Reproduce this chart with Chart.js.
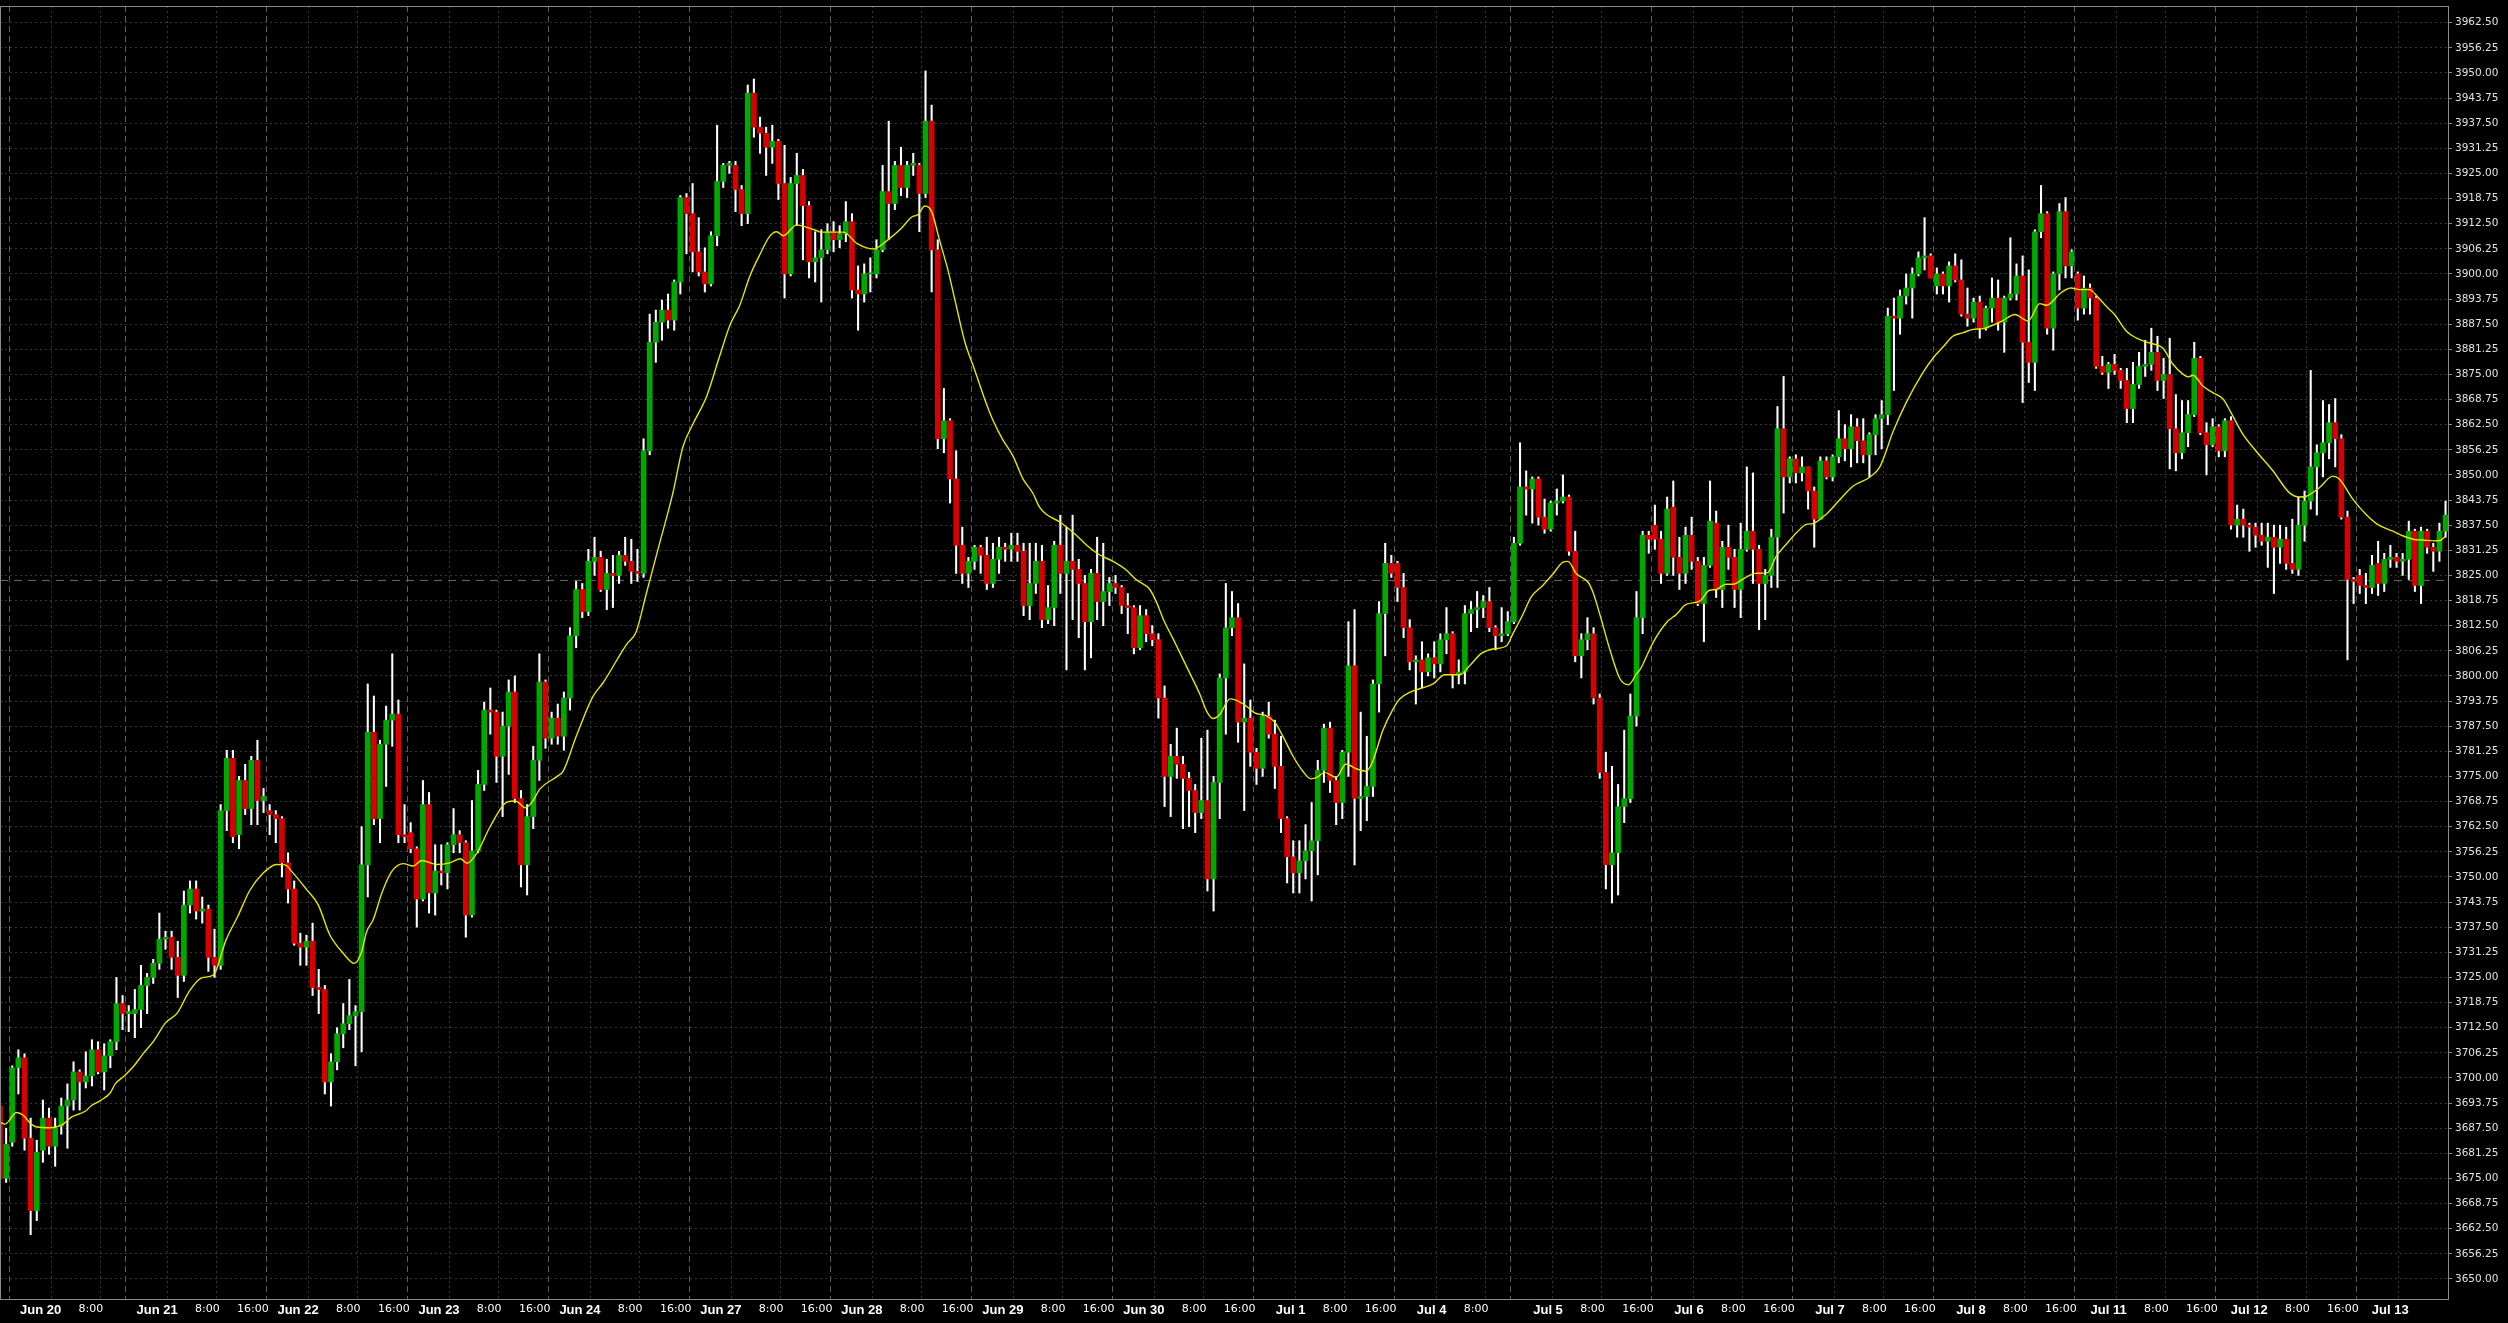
<!DOCTYPE html>
<html>
<head>
<meta charset="utf-8">
<title>ES hourly candles</title>
<script src="https://cdn.jsdelivr.net/npm/chart.js@4.4.0/dist/chart.umd.min.js"></script>
<style>
  html, body { margin: 0; padding: 0; background: #000; }
  #wrap { width: 2508px; height: 1323px; }
</style>
</head>
<body>
<div id="wrap"><canvas id="chart" width="2508" height="1323"></canvas></div>
<script>
// hourly bars, Jun 20 -> Jul 13 (index = bar number)
const openP = [
  3693, 3675, 3684, 3702.5, 3705, 3685, 3667, 3682, 3690, 3683,
  3688, 3693, 3694.5, 3701.5, 3699, 3700.5, 3707, 3701.5, 3705.5, 3709,
  3718.5, 3716, 3716, 3717, 3723, 3725, 3728.5, 3734.5, 3735, 3730,
  3725.5, 3743, 3747, 3741.5, 3742, 3730, 3728, 3766.5, 3779.5, 3760.5,
  3774, 3767, 3779, 3769, 3766.5, 3765.5, 3764.5, 3753.5, 3747, 3733.5,
  3732.5, 3734, 3722.5, 3722, 3699, 3704, 3711, 3713.5, 3715.5, 3716.5,
  3753, 3786, 3764.5, 3783, 3789, 3790.5, 3760.5, 3761, 3757, 3744.5,
  3768, 3746, 3751.5, 3751, 3758, 3760.5, 3758.5, 3740.5, 3756.5, 3773,
  3791.5, 3791, 3780, 3787.5, 3796, 3769.5, 3753, 3765, 3779, 3798.5,
  3784.5, 3789.5, 3785, 3794.5, 3810, 3821.5, 3816, 3828.5, 3829.5, 3821.5,
  3825.5, 3825, 3830, 3828.5, 3826, 3825.5, 3856, 3883, 3888, 3891,
  3888.5, 3898, 3919, 3915, 3905.5, 3900.5, 3897.5, 3909.5, 3923, 3927,
  3927, 3921, 3915, 3945, 3936.5, 3935, 3931.5, 3933, 3922.5, 3900,
  3922.5, 3924.5, 3917, 3903, 3904, 3906, 3910.5, 3908.5, 3910, 3913,
  3896, 3895, 3900, 3900, 3906, 3920.5, 3917.5, 3927, 3921.5, 3927,
  3927, 3920, 3938, 3906, 3859, 3863.5, 3849, 3832.5, 3825.5, 3828.5,
  3832, 3830, 3823, 3829, 3832, 3831.5, 3832.5, 3831, 3817.5, 3823,
  3828.5, 3814, 3817, 3832.5, 3825.5, 3828.5, 3826.5, 3823, 3813.5, 3825.5,
  3818.5, 3821, 3823, 3822, 3817.5, 3817, 3807, 3815, 3810.5, 3809,
  3794.5, 3775, 3780, 3778, 3774.5, 3771.5, 3766, 3769, 3749.5, 3773.5,
  3799.5, 3812, 3814.5, 3788.5, 3789.5, 3781, 3777, 3790, 3785.5, 3777.5,
  3764.5, 3755, 3751, 3754, 3756.5, 3759, 3776.5, 3787, 3774, 3768.5,
  3781, 3802.5, 3769.5, 3770, 3772.5, 3798, 3815.5, 3828, 3828, 3822,
  3812, 3803.5, 3804, 3801, 3804.5, 3803, 3809, 3810.5, 3800.5, 3801,
  3815.5, 3816.5, 3817, 3818.5, 3812, 3810, 3810.5, 3813.5, 3833, 3847,
  3846.5, 3849, 3839.5, 3836.5, 3843, 3843.5, 3844.5, 3831, 3805, 3809,
  3810.5, 3794.5, 3776, 3753, 3756, 3767.5, 3769.5, 3790, 3814.5, 3835,
  3837.5, 3834, 3825.5, 3842, 3829.5, 3825.5, 3835, 3828.5, 3818, 3827.5,
  3838, 3821.5, 3832, 3829.5, 3821.5, 3831.5, 3836, 3831.5, 3823, 3825,
  3834.5, 3861.5, 3849.5, 3854, 3850.5, 3852, 3846, 3839, 3853.5, 3849.5,
  3854.5, 3859, 3856.5, 3862, 3858.5, 3855, 3860, 3864, 3865, 3889.5,
  3889, 3894.5, 3896.5, 3900, 3904, 3904.5, 3897, 3900, 3897, 3902,
  3898.5, 3890, 3889, 3893, 3886.5, 3891.5, 3894, 3888, 3894, 3895,
  3899.5, 3883, 3878, 3910.5, 3915, 3886.5, 3900, 3915.5, 3902, 3900,
  3891.5, 3896.5, 3894, 3877, 3875.5, 3877.5, 3876, 3873.5, 3866.5, 3872.5,
  3877, 3877.5, 3880.5, 3873.5, 3875, 3861.5, 3855.5, 3860.5, 3865, 3879,
  3860.5, 3857.5, 3862, 3856, 3863.5, 3837.5, 3839, 3837.5, 3837, 3835,
  3833.5, 3834.5, 3832, 3834, 3828, 3826.5, 3837.5, 3843.5, 3852, 3855.5,
  3858, 3863, 3859, 3839.5, 3824, 3825, 3822.5, 3822, 3828, 3823,
  3829, 3829.5, 3828.5, 3829, 3836, 3822.5, 3836, 3832, 3831, 3836
];
const highP = [
  3696, 3687.5, 3703, 3707, 3706, 3690, 3684.5, 3694.5, 3692.5, 3690,
  3695, 3698.5, 3704, 3702, 3706.5, 3709.5, 3709, 3708.5, 3709.5, 3725,
  3720.5, 3718, 3722, 3728, 3726, 3729.5, 3741, 3736.5, 3736.5, 3734,
  3746.5, 3749, 3749, 3745, 3743, 3737, 3768, 3781.5, 3781.5, 3775,
  3778, 3780, 3784, 3772, 3768, 3766.5, 3765, 3756, 3749, 3736,
  3735.5, 3738.5, 3727, 3723, 3706, 3712.5, 3718.5, 3724.5, 3718, 3762.5,
  3798, 3795, 3784, 3792.5, 3805.5, 3794, 3768, 3763.5, 3757.5, 3774,
  3771, 3758, 3758, 3758.5, 3767, 3761.5, 3759, 3769, 3776.5, 3793.5,
  3797, 3791.5, 3791, 3799, 3800, 3771.5, 3768, 3782.5, 3805.5, 3799,
  3791, 3793, 3796, 3812, 3823.5, 3823, 3831.5, 3834.5, 3831, 3829,
  3830, 3831, 3834.5, 3834, 3831.5, 3859, 3890, 3891, 3893.5, 3895,
  3898.5, 3919.5, 3920, 3922.5, 3914, 3906.5, 3910.5, 3937, 3927.5, 3928,
  3928, 3922, 3947, 3948.5, 3939, 3936.5, 3937, 3933.5, 3932, 3924,
  3930, 3926, 3918, 3910.5, 3911, 3912.5, 3913, 3912, 3918, 3915,
  3902, 3902.5, 3904, 3908.5, 3927, 3938, 3928, 3931.5, 3928, 3930,
  3927.5, 3950.5, 3942, 3908.5, 3871.5, 3864, 3856, 3837, 3829.5, 3832.5,
  3832.5, 3834.5, 3833, 3834.5, 3833, 3835.5, 3835.5, 3833, 3833, 3833,
  3832.5, 3822.5, 3833.5, 3840, 3837, 3840, 3829, 3825, 3826.5, 3834.5,
  3833, 3824.5, 3825, 3822.5, 3820.5, 3817.5, 3817.5, 3816.5, 3812.5, 3810.5,
  3797.5, 3783, 3787, 3780, 3776, 3773, 3784.5, 3786.5, 3775, 3800.5,
  3823, 3821, 3818, 3803, 3794, 3782, 3791, 3793.5, 3789, 3785,
  3765, 3759, 3759, 3763, 3768.5, 3779, 3788, 3788.5, 3775, 3781.5,
  3813.5, 3816.5, 3791, 3785, 3799, 3818.5, 3833, 3830, 3828.5, 3825.5,
  3814, 3805, 3808.5, 3805.5, 3808.5, 3810.5, 3817, 3811, 3804, 3817.5,
  3818.5, 3821, 3820, 3822, 3812.5, 3817, 3816, 3834.5, 3858, 3851,
  3849.5, 3849.5, 3844, 3843.5, 3846.5, 3850, 3845, 3836, 3810.5, 3814.5,
  3812, 3795.5, 3781, 3777.5, 3773, 3786.5, 3795.5, 3821, 3836, 3836,
  3842.5, 3836, 3844.5, 3848.5, 3834.5, 3837, 3839.5, 3829.5, 3829.5, 3848.5,
  3841, 3833.5, 3837.5, 3831.5, 3838, 3852, 3850.5, 3832.5, 3826.5, 3836.5,
  3867, 3874.5, 3854.5, 3855, 3854.5, 3852, 3847, 3854.5, 3854.5, 3855,
  3866, 3862.5, 3865, 3864, 3864, 3860.5, 3865, 3868.5, 3891.5, 3894,
  3896, 3900, 3901.5, 3905.5, 3914, 3905, 3901.5, 3900.5, 3903, 3905,
  3903.5, 3896.5, 3894, 3894.5, 3892, 3899, 3898.5, 3894.5, 3909, 3902.5,
  3904.5, 3901, 3911, 3922, 3915.5, 3900.5, 3917.5, 3919, 3906, 3900.5,
  3899.5, 3897.5, 3894.5, 3879.5, 3878, 3880, 3876.5, 3876.5, 3878, 3880.5,
  3883.5, 3886.5, 3884.5, 3879, 3884, 3870, 3868.5, 3868.5, 3883, 3879.5,
  3863, 3864, 3862.5, 3864, 3864.5, 3842.5, 3841.5, 3838, 3838, 3838,
  3838, 3837.5, 3837.5, 3837, 3839, 3844.5, 3846, 3876, 3857.5, 3868.5,
  3867.5, 3869, 3860, 3841, 3824.5, 3826.5, 3825.5, 3830, 3833.5, 3830.5,
  3832.5, 3830.5, 3830.5, 3838.5, 3836.5, 3837, 3836.5, 3833, 3838, 3843.5
];
const lowP = [
  3674, 3674, 3683, 3696, 3682, 3661, 3664.5, 3679, 3681, 3678,
  3686, 3682.5, 3692, 3692, 3697.5, 3698, 3701, 3697, 3702.5, 3707,
  3712, 3711.5, 3710, 3712.5, 3716, 3723.5, 3727, 3732, 3727, 3720,
  3724, 3741, 3739.5, 3738.5, 3726.5, 3725, 3727, 3761.5, 3758.5, 3757,
  3765.5, 3763, 3763, 3766, 3760.5, 3758.5, 3750, 3743.5, 3733, 3728,
  3728, 3720.5, 3716, 3696, 3693, 3702, 3707.5, 3712, 3703, 3706.5,
  3745, 3763, 3758.5, 3772.5, 3782.5, 3758.5, 3758.5, 3756, 3737.5, 3744,
  3741, 3740.5, 3748, 3747, 3756, 3756, 3735, 3740, 3756, 3771.5,
  3785.5, 3773.5, 3765, 3775.5, 3768.5, 3747.5, 3745.5, 3762, 3774, 3782,
  3783, 3783, 3781.5, 3791.5, 3807, 3814.5, 3815, 3825, 3821, 3816.5,
  3817, 3823, 3827.5, 3823, 3823.5, 3824.5, 3855, 3878, 3883.5, 3886.5,
  3886, 3895, 3905, 3900.5, 3899.5, 3895.5, 3897, 3907, 3921.5, 3925,
  3915.5, 3912, 3912.5, 3934, 3930, 3924.5, 3927.5, 3918.5, 3894, 3899.5,
  3912, 3903.5, 3899, 3898, 3893, 3905, 3905.5, 3906.5, 3908, 3894,
  3886, 3893, 3895.5, 3899, 3905.5, 3908.5, 3916, 3919.5, 3919, 3924.5,
  3910.5, 3919, 3895.5, 3856.5, 3855.5, 3843, 3825.5, 3823, 3822, 3826.5,
  3825.5, 3821.5, 3822, 3825.5, 3828.5, 3828.5, 3828.5, 3815, 3814, 3820.5,
  3812, 3813, 3812.5, 3820.5, 3801.5, 3814, 3809.5, 3801.5, 3804.5, 3814,
  3812.5, 3817.5, 3820.5, 3815.5, 3810.5, 3805.5, 3806.5, 3808.5, 3807.5, 3789.5,
  3767.5, 3765, 3774.5, 3762, 3762.5, 3761, 3764.5, 3746.5, 3741.5, 3764.5,
  3785.5, 3810, 3783.5, 3766.5, 3777.5, 3773, 3775, 3784.5, 3772, 3761,
  3748.5, 3746, 3746, 3749.5, 3744, 3750.5, 3773.5, 3771, 3763, 3764.5,
  3775, 3753, 3761.5, 3764, 3770, 3791, 3805, 3824.5, 3818.5, 3809.5,
  3801.5, 3793, 3797, 3800, 3799.5, 3801, 3805.5, 3797, 3798, 3798,
  3811, 3812, 3814.5, 3811, 3806.5, 3808.5, 3810, 3813, 3832.5, 3840,
  3838, 3837.5, 3835.5, 3836, 3840, 3843, 3830, 3803.5, 3799.5, 3806.5,
  3793, 3774.5, 3747, 3743.5, 3745.5, 3763.5, 3768.5, 3787.5, 3810.5, 3830.5,
  3831.5, 3823, 3825, 3825, 3821.5, 3823, 3826.5, 3817.5, 3808.5, 3827,
  3819.5, 3817, 3826.5, 3817, 3814.5, 3831, 3823, 3811.5, 3814, 3822,
  3822, 3840.5, 3848, 3848, 3848.5, 3841.5, 3832, 3839, 3849, 3848.5,
  3853, 3853.5, 3852, 3853, 3853, 3849.5, 3855, 3856.5, 3862.5, 3871,
  3885, 3892.5, 3889, 3899.5, 3901, 3899, 3895, 3895, 3893, 3898,
  3889.5, 3887, 3888, 3884, 3886, 3888, 3886, 3880.5, 3893.5, 3893.5,
  3868, 3873, 3871, 3909, 3885, 3881, 3896, 3899, 3899, 3888.5,
  3890, 3890, 3876.5, 3875, 3871.5, 3875, 3871.5, 3863, 3863, 3871.5,
  3874.5, 3876, 3871, 3869, 3851.5, 3851, 3854, 3857, 3864.5, 3860,
  3850, 3857, 3854.5, 3854.5, 3836.5, 3834.5, 3834.5, 3831, 3832, 3832.5,
  3827, 3820.5, 3828, 3826.5, 3825.5, 3825, 3833.5, 3841.5, 3840, 3849.5,
  3854, 3852, 3839, 3804, 3818, 3820.5, 3818, 3820.5, 3820, 3821,
  3827, 3827, 3825, 3824, 3821, 3818, 3830.5, 3826, 3828.5, 3834.5
];
const closeP = [
  3675, 3683.5, 3702.5, 3705, 3685, 3667, 3681.5, 3690, 3683, 3687.5,
  3693, 3694.5, 3701.5, 3699, 3700.5, 3707, 3701.5, 3705.5, 3709, 3718.5,
  3716, 3716.5, 3717, 3723, 3725, 3728.5, 3734.5, 3735, 3730, 3725.5,
  3743, 3747, 3741.5, 3742, 3730, 3728, 3766.5, 3779.5, 3760, 3774,
  3767, 3779, 3769, 3770, 3765.5, 3764.5, 3753.5, 3747, 3733.5, 3732.5,
  3734, 3722.5, 3722, 3699, 3704, 3711, 3713.5, 3715.5, 3716.5, 3753,
  3786, 3764.5, 3783, 3789, 3790.5, 3760.5, 3760, 3757, 3744.5, 3768,
  3746, 3751.5, 3751, 3758, 3760.5, 3758.5, 3740.5, 3756.5, 3773, 3791.5,
  3791, 3780, 3787.5, 3796, 3769.5, 3753, 3765, 3779, 3798.5, 3784.5,
  3789.5, 3785, 3794.5, 3810, 3821.5, 3816, 3828.5, 3829.5, 3821.5, 3825.5,
  3825, 3830, 3828.5, 3826, 3825.5, 3856, 3883, 3888, 3891, 3888.5,
  3898, 3919, 3915, 3905.5, 3900.5, 3897.5, 3909.5, 3923, 3927, 3927.5,
  3921, 3915, 3945, 3936.5, 3935, 3931.5, 3933, 3922.5, 3900, 3922.5,
  3924.5, 3917, 3903, 3904, 3906, 3910.5, 3908.5, 3910, 3913, 3896,
  3895, 3900, 3900.25, 3906, 3920.5, 3917.5, 3927, 3921.5, 3927, 3927.5,
  3920, 3938, 3906, 3859, 3863.5, 3849, 3832.5, 3825.5, 3828.5, 3832,
  3830, 3823, 3829, 3832, 3831.5, 3832.5, 3831, 3817.5, 3823, 3828.5,
  3814, 3817, 3832.5, 3825.5, 3828.5, 3826.5, 3823, 3813.5, 3825.5, 3818.5,
  3821, 3823, 3822, 3817.5, 3817, 3807, 3815, 3810.5, 3809, 3794.5,
  3775, 3780, 3778, 3774.5, 3771.5, 3766, 3769, 3749.5, 3773.5, 3799.5,
  3812, 3814.5, 3788.5, 3789.5, 3781, 3777, 3790, 3785.5, 3777.5, 3764.5,
  3755, 3751, 3754, 3756.5, 3759, 3776.5, 3787, 3774, 3768.5, 3781,
  3802.5, 3769.5, 3770, 3772.5, 3798, 3815.5, 3828, 3825.5, 3822, 3812,
  3803.5, 3804, 3801, 3804.5, 3803, 3809, 3810.5, 3800.5, 3801, 3815.5,
  3816.5, 3817, 3818.5, 3812, 3810, 3810.5, 3813.5, 3833, 3847, 3846.5,
  3849, 3839.5, 3836.5, 3843, 3843.5, 3844.5, 3831, 3805, 3809, 3810.5,
  3794.5, 3776, 3753, 3756, 3767.5, 3769.5, 3790, 3814.5, 3835, 3834,
  3834, 3825.5, 3841.5, 3829.5, 3825.5, 3835, 3828.5, 3818, 3827.5, 3838.5,
  3821.5, 3832, 3829.5, 3821.5, 3831.5, 3836, 3831.5, 3823, 3825, 3834.5,
  3861.5, 3849.5, 3854, 3850.5, 3852, 3846, 3839, 3853.5, 3849.5, 3854.5,
  3859, 3856.5, 3862, 3858.5, 3855, 3860, 3864, 3865, 3889.5, 3889,
  3894.5, 3896.5, 3900, 3904, 3904.5, 3899, 3900, 3897, 3902, 3898.5,
  3890, 3889, 3893, 3886.5, 3891.5, 3894, 3888, 3894, 3895, 3899.5,
  3883, 3878, 3910.5, 3915, 3886.5, 3900, 3915.5, 3902, 3905.5, 3891.5,
  3896.5, 3894, 3877, 3875.5, 3877.5, 3876, 3873.5, 3866.5, 3872.5, 3877,
  3877.5, 3880.5, 3873.5, 3875, 3861.5, 3855.5, 3860.5, 3865, 3879, 3860.5,
  3857.5, 3862, 3856, 3863.5, 3837.5, 3839, 3837.5, 3837, 3835, 3833.5,
  3834.5, 3832, 3834, 3828, 3826.5, 3837.5, 3843.5, 3852, 3855.5, 3858,
  3863, 3859, 3839.5, 3824, 3823.5, 3822.5, 3822, 3827.5, 3823, 3829,
  3829.5, 3828.5, 3829, 3836, 3822.5, 3836, 3832, 3831, 3836, 3840
];

// yellow moving average at bar positions
const maX = [
  0, 0.8, 2.7, 3.8, 4.9, 6, 8.2, 10.1, 11.7, 13.9, 15, 16.3, 18, 18.8, 20.2, 21.8, 23.4, 25.1, 27, 28.9,
  30.9, 32.9, 34.8, 36.9, 38.8, 40.7, 42.9, 45.1, 46.5, 47.8, 50, 51.9, 53.8, 56, 57.8, 59, 59.8, 60.9, 62.3, 63.9,
  65.8, 67.4, 68.8, 71.2, 73.4, 75.1, 76.2, 77.8, 80, 82.7, 84.1, 85.7, 86.8, 88.1, 90.9, 91.9, 94, 96.7, 98.4, 102.2,
  103.8, 105.4, 107.6, 109.8, 111.4, 113.1, 115.3, 117.4, 119.1, 120.7, 122.3, 124, 125.6, 126.7, 127.8, 130, 131, 133.2, 133.8, 137.6,
  139.8, 142.5, 144.7, 146.9, 148.7, 149.8, 150.9, 152, 153.3, 154.6, 156, 157.4, 159, 160.9, 162, 163.6, 165.3, 166.9, 168.5, 169.6,
  170.7, 172.9, 175.6, 177.3, 179.3, 181.6, 183.8, 185.4, 187.6, 188.7, 189.8, 191.4, 193.6, 195.8, 196.9, 197.9, 199, 200.7, 202.9, 204.7,
  206.6, 208, 209.4, 210.9, 212.5, 213.9, 215, 216.1, 218, 219.6, 221.3, 222.9, 224, 225.6, 227.3, 228.4, 230, 231.6, 233.8, 235.7,
  238.2, 239.8, 241.7, 243.6, 245.8, 246.8, 248.5, 249.8, 251.7, 253.4, 255, 255.8, 257.2, 259.1, 259.9, 261, 262.7, 264.3, 265.7, 267,
  267.6, 269.7, 271.9, 273.5, 275.1, 277.3, 278.9, 280, 281.6, 282.7, 284.9, 286.3, 288.4, 289.8, 291.4, 293.1, 294.7, 295.8, 298, 300.2,
  302.3, 305.1, 306.7, 308.9, 311, 313.7, 315.4, 317, 318.6, 320.3, 321.9, 323.6, 325.2, 326.8, 328.7, 330.9, 332.8, 333.9, 334.9, 336,
  337.9, 339.3, 340.9, 342.3, 343.6, 345, 346.9, 348.5, 350.1, 351.5, 352.9, 354.5, 356.2, 357, 357.8, 359.4, 361.1, 362.7, 364, 365.9,
  368.1, 370.8, 373.5, 375.2, 376.3, 378.4, 380.6, 381.7, 383.9, 386, 387.9, 390.4, 392.1, 393.7, 395.3, 397, 398.1, 398.9
];
const maY = [
  3689, 3688.5, 3691.4, 3690.7, 3688.8, 3687.8, 3687.6, 3688.3, 3690.3, 3691.7, 3693.2, 3694.3, 3696.3, 3698.5, 3700.4, 3702.9, 3706.1, 3709.2, 3713.7, 3716.1,
  3721.6, 3724.9, 3725.6, 3734.4, 3740.2, 3746.5, 3750.9, 3753.1, 3753, 3751, 3746.9, 3743.1, 3735.6, 3731, 3728.5, 3731.4, 3736.3, 3739.4, 3746, 3751.3,
  3753.3, 3752.7, 3754.1, 3753.1, 3753.5, 3754.5, 3753.4, 3755.9, 3762.6, 3768.6, 3768.9, 3767.2, 3768.6, 3771.9, 3775, 3776.4, 3784.9, 3794.8, 3798.3, 3807.8,
  3811, 3820.2, 3832.9, 3845.6, 3856.9, 3862.8, 3869.6, 3879.5, 3887.3, 3892.2, 3899.3, 3904.9, 3909.4, 3910.5, 3909.5, 3912.2, 3911.9, 3910.8, 3910.4, 3910.4,
  3907.6, 3906.2, 3908.3, 3911.1, 3914.1, 3914.8, 3916.9, 3915.5, 3908.3, 3901.3, 3892.2, 3883.2, 3876.2, 3867.8, 3863.6, 3858.8, 3854.6, 3849, 3845.5, 3842,
  3840.2, 3838.3, 3835, 3832.5, 3830.2, 3828.5, 3826.3, 3823.9, 3821.5, 3818.3, 3814.1, 3809.2, 3802.3, 3795.3, 3791.1, 3789.4, 3790.4, 3794.3, 3793, 3790.8,
  3790.1, 3788.5, 3784.7, 3780.2, 3776.4, 3774.4, 3774.9, 3776, 3774.8, 3778.1, 3776.9, 3776.3, 3778.9, 3786.4, 3791.8, 3794.3, 3795.9, 3796.8, 3798, 3800.3,
  3800.3, 3802.6, 3805.6, 3806.7, 3807.5, 3810.4, 3815.4, 3819.6, 3822.5, 3825.4, 3828.3, 3828.5, 3825.4, 3823.3, 3820.8, 3815.4, 3806.3, 3799.3, 3797.8, 3800.5,
  3801.6, 3808.3, 3813.3, 3815.3, 3817.8, 3818.6, 3821.3, 3821.5, 3822.8, 3822.8, 3824.6, 3825.5, 3825.7, 3829.8, 3832.7, 3835.6, 3837.7, 3837.9, 3840.3, 3843.9,
  3847.2, 3849.5, 3852, 3860.9, 3868, 3875.4, 3879.1, 3881.8, 3884.5, 3885.4, 3886.2, 3886.4, 3887.3, 3888.4, 3889.9, 3888.3, 3892.6, 3892.2, 3893.2, 3895,
  3896.5, 3896.1, 3896.1, 3894.2, 3892, 3889.9, 3885.8, 3884.1, 3883.1, 3882.5, 3881.5, 3877.6, 3875, 3874.4, 3874.8, 3872.1, 3870.4, 3868.9, 3865.5, 3860.2,
  3855.9, 3851.1, 3845.6, 3844.5, 3844.7, 3846.8, 3849.7, 3848.9, 3843.9, 3840.2, 3837.7, 3836, 3834.8, 3834, 3833.8, 3833.6, 3833.7, 3834.6
];

const levelPrice = 3823.75;   // dashed horizontal level line
const xMin = 0;
const xMax = 399.4;
const yMin = 3645.0;
const yMax = 3966.65;

const yTickValues = [
  3650, 3656.25, 3662.5, 3668.75, 3675, 3681.25, 3687.5, 3693.75, 3700, 3706.25,
  3712.5, 3718.75, 3725, 3731.25, 3737.5, 3743.75, 3750, 3756.25, 3762.5, 3768.75,
  3775, 3781.25, 3787.5, 3793.75, 3800, 3806.25, 3812.5, 3818.75, 3825, 3831.25,
  3837.5, 3843.75, 3850, 3856.25, 3862.5, 3868.75, 3875, 3881.25, 3887.5, 3893.75,
  3900, 3906.25, 3912.5, 3918.75, 3925, 3931.25, 3937.5, 3943.75, 3950, 3956.25, 3962.5
];

// session starts (bar positions) and their labels
const dayStart = [1.5, 20.5, 43.5, 66.5, 89.5, 112.5, 135.5, 158.5, 181.5, 204.5, 227.5, 246.5, 269.5, 292.5, 315.5, 338.5, 361.5, 384.5];
const dayLabels = ['Jun 20', 'Jun 21', 'Jun 22', 'Jun 23', 'Jun 24', 'Jun 27', 'Jun 28', 'Jun 29', 'Jun 30', 'Jul 1',
                   'Jul 4', 'Jul 5', 'Jul 6', 'Jul 7', 'Jul 8', 'Jul 11', 'Jul 12', 'Jul 13'];
// 8:00 / 16:00 grid lines (empty label = line without text)
const hourPos = [8.35, 16.35, 27.35, 35.35, 50.35, 58.35, 73.35, 81.35, 96.35, 104.35, 119.35, 127.35,
                 142.35, 150.35, 165.35, 173.35, 188.35, 196.35, 211.35, 219.35, 234.35, 242.35,
                 253.35, 261.35, 276.35, 284.35, 299.35, 307.35, 322.35, 330.35, 345.35, 353.35,
                 368.35, 376.35, 391.35];
const hourLabels = ['8:00', '', '8:00', '16:00', '8:00', '16:00', '8:00', '16:00', '8:00', '16:00', '8:00', '16:00',
                    '8:00', '16:00', '8:00', '16:00', '8:00', '16:00', '8:00', '16:00', '8:00', '',
                    '8:00', '16:00', '8:00', '16:00', '8:00', '16:00', '8:00', '16:00', '8:00', '16:00',
                    '8:00', '16:00', ''];

const UP = '#00a800';
const DOWN = '#d80000';

const wicks = openP.map((o, i) => ({ x: i, y: [lowP[i], highP[i]] }));
const bodies = openP.map((o, i) => ({ x: i, y: [o, closeP[i]] }));
const bodyColors = openP.map((o, i) => (closeP[i] >= o ? UP : DOWN));
const maPoints = maX.map((x, k) => ({ x: x, y: maY[k] }));

const xTicks = [];
dayStart.forEach((v, k) => xTicks.push({ value: v, txt: dayLabels[k], day: true }));
hourPos.forEach((v, k) => xTicks.push({ value: v, txt: hourLabels[k], day: false }));
xTicks.sort((a, b) => a.value - b.value);

// frame on the left and top of the plot
const plotFrame = {
  id: 'plotFrame',
  afterDraw(chart) {
    const { ctx, chartArea: a } = chart;
    ctx.save();
    ctx.strokeStyle = '#8a8a8a';
    ctx.lineWidth = 1;
    ctx.beginPath();
    ctx.moveTo(a.left + 0.5, a.bottom);
    ctx.lineTo(a.left + 0.5, a.top + 0.5);
    ctx.lineTo(a.right, a.top + 0.5);
    ctx.stroke();
    ctx.restore();
  }
};

new Chart(document.getElementById('chart'), {
  type: 'bar',
  data: {
    datasets: [
      {
        type: 'line',
        label: 'MA',
        data: maPoints,
        borderColor: '#e6e600',
        borderWidth: 1.4,
        pointRadius: 0,
        cubicInterpolationMode: 'monotone',
        order: 0
      },
      {
        label: 'body',
        data: bodies,
        backgroundColor: bodyColors,
        barThickness: 5,
        minBarLength: 1,
        grouped: false,
        order: 1
      },
      {
        label: 'wick',
        data: wicks,
        backgroundColor: '#ffffff',
        barThickness: 1.4,
        grouped: false,
        order: 2
      },
      {
        type: 'line',
        label: 'level',
        data: [{ x: xMin, y: levelPrice }, { x: xMax, y: levelPrice }],
        borderColor: '#6a6a6a',
        borderWidth: 1,
        borderDash: [8, 6],
        pointRadius: 0,
        order: 3
      }
    ]
  },
  options: {
    responsive: false,
    animation: false,
    devicePixelRatio: 1,
    events: [],
    layout: { padding: { top: 6, left: 0, right: 0, bottom: 0 } },
    plugins: { legend: { display: false }, tooltip: { enabled: false } },
    scales: {
      x: {
        type: 'linear',
        min: xMin,
        max: xMax,
        offset: false,
        afterBuildTicks: (scale) => { scale.ticks = xTicks.map(t => Object.assign({}, t)); },
        afterFit: (scale) => { scale.height = 24; scale.paddingLeft = 0; scale.paddingRight = 0; },
        ticks: {
          autoSkip: false,
          maxRotation: 0,
          align: 'end',
          labelOffset: 52,
          padding: 4,
          color: '#ffffff',
          font: (ctx) => (ctx.tick && ctx.tick.day)
            ? { family: 'Liberation Sans', size: 13, weight: 'bold' }
            : { family: 'DejaVu Sans', size: 11 },
          callback: (value, index, ticks) => ticks[index].txt
        },
        grid: {
          offset: false,
          drawTicks: false,
          color: (ctx) => (ctx.tick && ctx.tick.day) ? '#5c5c5c' : '#363636'
        },
        border: {
          color: '#8a8a8a',
          dash: (ctx) => (ctx.tick && ctx.tick.day) ? [6, 4] : [2, 3]
        }
      },
      y: {
        position: 'right',
        min: yMin,
        max: yMax,
        afterBuildTicks: (scale) => { scale.ticks = yTickValues.map(v => ({ value: v })); },
        afterFit: (scale) => { scale.width = 60; scale.paddingTop = 0; scale.paddingBottom = 0; },
        ticks: {
          autoSkip: false,
          padding: 3,
          color: '#e2e2e2',
          font: { family: 'DejaVu Sans', size: 10.5 },
          callback: (v) => Number(v).toFixed(2)
        },
        grid: { color: '#363636', tickColor: '#8a8a8a', tickLength: 4 },
        border: { color: '#8a8a8a', dash: [2, 3] }
      }
    }
  },
  plugins: [plotFrame]
});
</script>
</body>
</html>
